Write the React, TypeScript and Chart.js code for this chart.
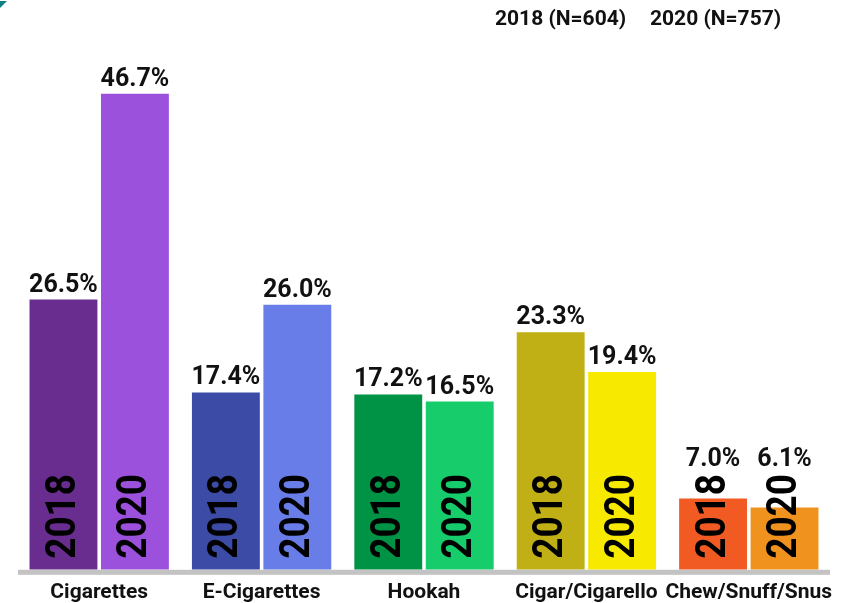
import React, { useEffect, useRef } from "react";
import { Chart, registerables } from "chart.js";

Chart.register(...registerables);

const categories = ["Cigarettes", "E-Cigarettes", "Hookah", "Cigar/Cigarello", "Chew/Snuff/Snus"];
const values2018 = [26.5, 17.4, 17.2, 23.3, 7.0];
const values2020 = [46.7, 26.0, 16.5, 19.4, 6.1];
const seriesLabels = ["2018 (N=604)", "2020 (N=757)"];
const yearLabels = ["2018", "2020"];
const colors2018 = ["#682d8e", "#3b4ba6", "#009245", "#c1b015", "#f15a22"];
const colors2020 = ["#9b51db", "#687de8", "#16cc6b", "#f7ea00", "#f0921e"];

const FONT = "Roboto";

const overlayPlugin = {
  id: "overlay",
  afterDatasetsDraw(chart: any) {
    const ctx = chart.ctx;
    const area = chart.chartArea;
    ctx.save();
    // baseline axis line
    ctx.fillStyle = "#c3c3c3";
    ctx.fillRect(area.left, area.bottom, area.right - area.left, 5);

    const yearStart = area.bottom - 11;
    const stretch = 0.88;
    chart.data.datasets.forEach((ds: any, di: number) => {
      const meta = chart.getDatasetMeta(di);
      meta.data.forEach((bar: any, i: number) => {
        const v = ds.data[i];
        // vertical year label
        ctx.save();
        ctx.font = `bold 42px ${FONT}`;
        const tw = ctx.measureText(yearLabels[di]).width * stretch;
        ctx.translate(bar.x, yearStart);
        ctx.rotate(-Math.PI / 2);
        ctx.scale(stretch, 1);
        ctx.textAlign = "left";
        ctx.textBaseline = "middle";
        ctx.fillStyle = "#000";
        ctx.fillText(yearLabels[di], 0, 1);
        ctx.restore();
        // value label
        const top = Math.min(bar.y, yearStart - tw);
        ctx.fillStyle = "#111";
        ctx.font = `bold 25px ${FONT}`;
        ctx.textAlign = "center";
        ctx.textBaseline = "alphabetic";
        ctx.fillText(v.toFixed(1) + "%", bar.x, top - 8);
      });
    });

    // legend text
    ctx.fillStyle = "#111";
    ctx.font = `bold 21px ${FONT}`;
    ctx.textAlign = "left";
    ctx.textBaseline = "middle";
    ctx.fillText(seriesLabels[0], 495, 20);
    ctx.fillText(seriesLabels[1], 650, 20);
    ctx.restore();
  },
};

export default function App() {
  const ref = useRef<HTMLCanvasElement>(null);
  useEffect(() => {
    const chart = new Chart(ref.current!, {
      type: "bar",
      data: {
        labels: categories,
        datasets: [
          { label: seriesLabels[0], data: values2018, backgroundColor: colors2018 },
          { label: seriesLabels[1], data: values2020, backgroundColor: colors2020 },
        ],
      },
      options: {
        animation: false,
        responsive: false,
        maintainAspectRatio: false,
        layout: { padding: { left: 18, right: 21, top: 60, bottom: -12 } },
        plugins: { legend: { display: false }, tooltip: { enabled: false } },
        datasets: { bar: { categoryPercentage: 0.88, barPercentage: 0.95 } },
        scales: {
          x: {
            grid: { display: false, drawTicks: false, tickLength: 0 },
            border: { display: false },
            ticks: {
              color: "#111",
              padding: 10,
              font: { family: FONT, size: 21, weight: "bold" },
              maxRotation: 0,
              autoSkip: false,
            },
          },
          y: { display: false, min: 0, max: 50 },
        },
      },
      plugins: [overlayPlugin],
    });
    return () => chart.destroy();
  }, []);
  return (
    <div style={{ position: "fixed", left: 0, top: 0, width: 851, height: 603, background: "#fff" }}>
      <div
        style={{
          position: "absolute",
          left: 0,
          top: 1,
          width: 7,
          height: 7,
          background: "#0f7f86",
          clipPath: "polygon(0 0, 100% 0, 0 100%)",
        }}
      />
      <canvas ref={ref} width={851} height={603} style={{ display: "block" }} />
    </div>
  );
}
